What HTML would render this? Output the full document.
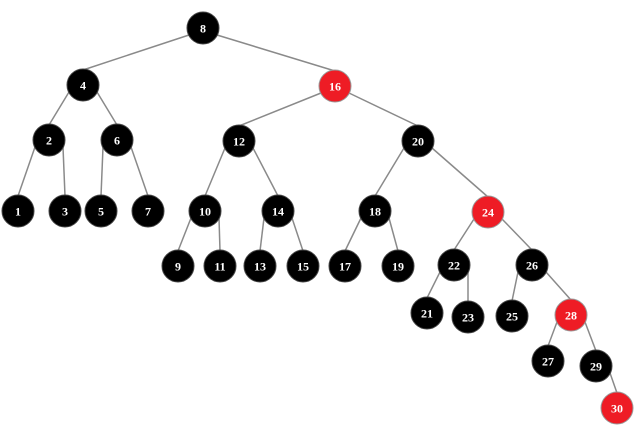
<!DOCTYPE html>
<html><head><meta charset="utf-8"><style>
html,body{margin:0;padding:0;background:#fff;width:640px;height:431px;overflow:hidden}
</style></head><body>
<svg id="s" width="640" height="431" xmlns="http://www.w3.org/2000/svg"></svg>
<script>
var N={8:[203,28,0],4:[83,85,0],16:[335,86,1],2:[49,140,0],6:[117,140,0],12:[239,141,0],20:[418,141,0],
1:[18,211,0],3:[65,211,0],5:[101,211,0],7:[148,211,0],10:[205,211,0],14:[278,211,0],18:[375,211,0],24:[488,212,1],
9:[178,266,0],11:[220,266,0],13:[260,266,0],15:[303,266,0],17:[345,266,0],19:[398,266,0],22:[454,265,0],26:[532,265,0],
21:[427,313,0],23:[468,317,0],25:[512,316,0],28:[571,315,1],27:[548,361,0],29:[596,366,0],30:[617,408,1]};
var E=[[8,4],[8,16],[4,2],[4,6],[16,12],[16,20],[2,1],[2,3],[6,5],[6,7],[12,10],[12,14],[20,18],[20,24],
[10,9],[10,11],[14,13],[14,15],[18,17],[18,19],[24,22],[24,26],[22,21],[22,23],[26,25],[26,28],[28,27],[28,29],[29,30]];
var h='';
E.forEach(function(e){var p=N[e[0]],c=N[e[1]];var d=c[0]<p[0]?-1:1;
var sx=p[0]+d*14,sy=p[1]+7;h+='<line x1="'+sx+'" y1="'+sy+'" x2="'+c[0]+'" y2="'+(c[1]-15)+'" stroke="#8a8a8a" stroke-width="1.5"/>';});
for(var k in N){var n=N[k];
h+='<circle cx="'+n[0]+'" cy="'+n[1]+'" r="16" fill="'+(n[2]?'#ee1c25':'#000')+'" stroke="'+(n[2]?'#999':'#444')+'" stroke-width="1"/>';
h+='<text x="'+n[0]+'" y="'+(n[1]+4.5)+'" text-anchor="middle" font-family="Liberation Serif,serif" font-weight="bold" font-size="12" fill="#fff">'+k+'</text>';}
document.getElementById('s').innerHTML=h;
</script>
</body></html>
